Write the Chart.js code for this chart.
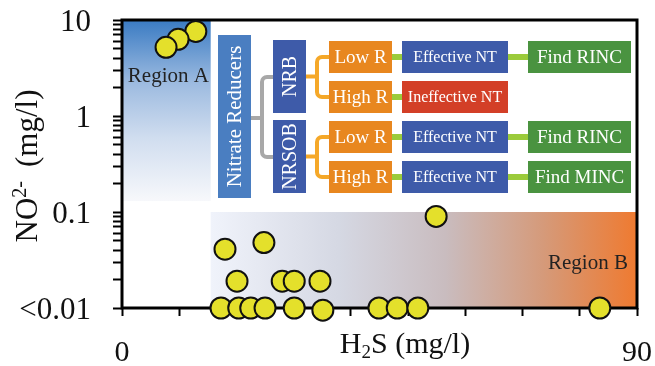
<!DOCTYPE html>
<html>
<head>
<meta charset="utf-8">
<script src="https://cdn.jsdelivr.net/npm/chart.js@4/dist/chart.umd.min.js"></script>
<style>
  html, body { margin: 0; padding: 0; background: #fff; }
  #wrap { width: 655px; height: 366px; }
</style>
</head>
<body>
<div id="wrap"><canvas id="c" width="655" height="366"></canvas></div>
<script>
// Sample measurements: H2S (mg/l) against nitrite (mg/l); values at the
// detection limit are plotted on the "<0.01" line.
const h2s     = [12.9, 9.8, 7.7, 18.0, 24.8, 20.1, 28.0, 30.1, 34.6, 54.9,
                 17.3, 20.4, 22.5, 25.0, 30.1, 35.1, 44.9, 48.1, 51.7, 83.5];
const nitrite = [7.6, 6.3, 5.2, 0.041, 0.048, 0.019, 0.019, 0.019, 0.019, 0.09,
                 0.01, 0.01, 0.01, 0.01, 0.01, 0.0095, 0.01, 0.01, 0.01, 0.01];

// Axis ticks and labels
const xTicks = [0, 10, 20, 30, 40, 50, 60, 70, 80, 90];
const xTickLabels = { 0: '0', 90: '90' };
const yDecades = [0.01, 0.1, 1];
const yMajor = [0.01, 0.1, 1, 10];
const yMajorLabels = ['<0.01', '0.1', '1', '10'];

// Shaded regions (data units)
const regionA = { x: [0, 15.5], y: [0.13, 10], label: 'Region A' };
const regionB = { x: [15.5, 90], y: [0.01, 0.1], label: 'Region B' };

// Decision tree shown in the upper right
const treeRoot = 'Nitrate Reducers';
const treeGroups = ['NRB', 'NRSOB'];
const treeRates = ['Low R', 'High R'];
const treeOutcomes = [['Effective NT', 'Ineffective NT'], ['Effective NT', 'Effective NT']];
const treeActions = [['Find RINC', null], ['Find RINC', 'Find MINC']];

const SERIF = "'Liberation Serif', 'Times New Roman', serif";

function drawTextParts(ctx, parts, x, y) {
  // parts: [{t, size, dy}] laid out left-to-right from x, baseline y
  let cx = x;
  parts.forEach(p => {
    ctx.font = p.size + 'px ' + SERIF;
    ctx.fillText(p.t, cx, y + (p.dy || 0));
    cx += ctx.measureText(p.t).width + (p.after || 0);
  });
}
function partsWidth(ctx, parts) {
  let w = 0;
  parts.forEach(p => { ctx.font = p.size + 'px ' + SERIF; w += ctx.measureText(p.t).width + (p.after || 0); });
  return w;
}

function box(ctx, x, y, w, h, color, text, size, vertical) {
  ctx.fillStyle = color;
  ctx.fillRect(x, y, w, h);
  ctx.save();
  ctx.fillStyle = '#fff';
  ctx.font = size + 'px ' + SERIF;
  ctx.textAlign = 'center';
  ctx.textBaseline = 'middle';
  ctx.translate(x + w / 2, y + h / 2 + (vertical ? 0 : 1));
  if (vertical) ctx.rotate(-Math.PI / 2);
  ctx.fillText(text, 0, vertical ? 1 : 0);
  ctx.restore();
}

function bracket(ctx, color, x0, xs, x1, yMid, yTop, yBot) {
  const r = 5;
  ctx.save();
  ctx.strokeStyle = color;
  ctx.lineWidth = 4;
  ctx.lineCap = 'butt';
  ctx.beginPath();
  ctx.moveTo(x0, yMid); ctx.lineTo(xs, yMid);
  ctx.stroke();
  ctx.beginPath();
  ctx.moveTo(x1, yTop);
  ctx.arcTo(xs, yTop, xs, yTop + r, r);
  ctx.lineTo(xs, yBot - r);
  ctx.arcTo(xs, yBot, x1, yBot, r);
  ctx.lineTo(x1, yBot);
  ctx.stroke();
  ctx.restore();
}

const decor = {
  id: 'decor',
  beforeDatasetsDraw(chart) {
    const { ctx, chartArea: a, scales: { x, y } } = chart;
    ctx.save();

    // Region A: blue, fading downward
    const ax0 = x.getPixelForValue(regionA.x[0]), ax1 = x.getPixelForValue(regionA.x[1]);
    const ay0 = y.getPixelForValue(regionA.y[1]), ay1 = y.getPixelForValue(regionA.y[0]);
    const ga = ctx.createLinearGradient(0, ay0, 0, ay1);
    ga.addColorStop(0, '#3a7bc3');
    ga.addColorStop(0.35, '#9dbbe0');
    ga.addColorStop(0.65, '#d0ddef');
    ga.addColorStop(1, '#f7f8fb');
    ctx.fillStyle = ga;
    ctx.fillRect(ax0, ay0, ax1 - ax0, ay1 - ay0);

    // Region B: pale blue to orange, left to right
    const bx0 = x.getPixelForValue(regionB.x[0]), bx1 = x.getPixelForValue(regionB.x[1]);
    const by0 = y.getPixelForValue(regionB.y[1]), by1 = y.getPixelForValue(regionB.y[0]);
    const gb = ctx.createLinearGradient(bx0, 0, bx1, 0);
    gb.addColorStop(0, '#f0f3fb');
    gb.addColorStop(0.3, '#d5d8e3');
    gb.addColorStop(0.55, '#c9bcbf');
    gb.addColorStop(0.78, '#d59a7a');
    gb.addColorStop(1, '#ef7a30');
    ctx.fillStyle = gb;
    ctx.fillRect(bx0, by0, bx1 - bx0, by1 - by0);

    ctx.fillStyle = '#222';
    ctx.font = '21px ' + SERIF;
    ctx.textAlign = 'center';
    ctx.textBaseline = 'middle';
    ctx.fillText(regionA.label, (ax0 + ax1) / 2 + 2, a.top + 56);
    ctx.fillText(regionB.label, bx1 - 49, by0 + 51);

    // Decision tree
    const ox = a.left, oy = a.top;
    box(ctx, ox + 96, oy + 15, 33, 163, '#4a7ec1', treeRoot, 21, true);
    bracket(ctx, '#a8a8a8', ox + 129, ox + 140, ox + 151, oy + 98, oy + 57, oy + 137);
    treeGroups.forEach((g, gi) => {
      const gy = oy + 20 + gi * 80;
      box(ctx, ox + 151, gy, 33, 73, '#3e5ba9', g, 20, true);
      const rowTop = [gy + 1, gy + 41];
      bracket(ctx, '#f5a829', ox + 184, ox + 195, ox + 207, gy + 36.5, rowTop[0] + 16, rowTop[1] + 16);
      treeRates.forEach((r, ri) => {
        const ry = rowTop[ri];
        const cy = ry + 16;
        box(ctx, ox + 207, ry, 63, 32, '#e8871f', r, 19, false);
        ctx.fillStyle = '#9bcb3b';
        ctx.fillRect(ox + 270, cy - 3, 10, 6);
        const out = treeOutcomes[gi][ri];
        box(ctx, ox + 280, ry, 106, 32, out.startsWith('In') ? '#d33f27' : '#3e5ba9', out, 16, false);
        const act = treeActions[gi][ri];
        if (act) {
          ctx.fillStyle = '#9bcb3b';
          ctx.fillRect(ox + 386, cy - 3, 20, 6);
          box(ctx, ox + 406, ry, 103, 32, '#4a9340', act, 19, false);
        }
      });
    });

    // Frame
    ctx.strokeStyle = '#000';
    ctx.lineWidth = 3;
    ctx.strokeRect(a.left, a.top, a.right - a.left, a.bottom - a.top);
    ctx.restore();
  },
  afterDraw(chart) {
    const { ctx } = chart;
    ctx.save();
    ctx.fillStyle = '#111';
    ctx.textBaseline = 'alphabetic';
    ctx.textAlign = 'left';
    // x title: H2S (mg/l)
    const xp = [{ t: 'H', size: 30 }, { t: '2', size: 19, dy: 5 }, { t: 'S (mg/l)', size: 30 }];
    const xw = partsWidth(ctx, xp);
    drawTextParts(ctx, xp, 405 - xw / 2, 353);
    // y title: NO2- (mg/l), rotated
    ctx.translate(37, 166);
    ctx.rotate(-Math.PI / 2);
    const yp = [{ t: 'NO', size: 31 }, { t: '2-', size: 20, dy: -11, after: 14 }, { t: '(mg/l)', size: 31 }];
    const yw = partsWidth(ctx, yp);
    drawTextParts(ctx, yp, -yw / 2, 0);
    ctx.restore();
  }
};

const yTicks = [];
yDecades.forEach(d => { for (let k = 1; k <= 9; k++) yTicks.push(+(d * k).toPrecision(3)); });
yTicks.push(10);

new Chart(document.getElementById('c'), {
  type: 'scatter',
  data: {
    datasets: [{
      data: h2s.map((v, i) => ({ x: v, y: nitrite[i] })),
      backgroundColor: '#e4e02b',
      borderColor: '#111',
      borderWidth: 2,
      pointRadius: 10.5,
      pointHoverRadius: 10.5,
      clip: false
    }]
  },
  options: {
    responsive: false,
    animation: false,
    devicePixelRatio: 1,
    layout: { padding: { top: 20, right: 18, left: 0, bottom: 0 } },
    plugins: { legend: { display: false }, tooltip: { enabled: false } },
    scales: {
      x: {
        type: 'linear', min: 0, max: 90,
        afterBuildTicks: s => { s.ticks = xTicks.map(v => ({ value: v })); },
        afterFit: s => { s.height = 58; s.paddingLeft = 0; s.paddingRight = 0; },
        border: { display: false },
        grid: { drawOnChartArea: false, tickLength: 8, tickWidth: 2, tickColor: '#000' },
        ticks: {
          autoSkip: false, maxRotation: 0, padding: 19,
          color: '#111', font: { family: SERIF, size: 30 },
          callback: v => xTickLabels[v] ?? ''
        }
      },
      y: {
        type: 'logarithmic', min: 0.01, max: 10,
        afterBuildTicks: s => { s.ticks = yTicks.map(v => ({ value: v })); },
        afterFit: s => { s.width = 122; s.paddingTop = 0; s.paddingBottom = 0; },
        border: { display: false },
        grid: { drawOnChartArea: false, tickLength: 9, tickWidth: 2, tickColor: '#000' },
        ticks: {
          autoSkip: false, padding: 22, labelOffset: 3,
          color: '#111', font: { family: SERIF, size: 31 },
          callback: v => {
            const i = yMajor.findIndex(m => Math.abs(m - v) < m * 1e-6);
            return i >= 0 ? yMajorLabels[i] : '';
          }
        }
      }
    }
  },
  plugins: [decor]
});
</script>
</body>
</html>
